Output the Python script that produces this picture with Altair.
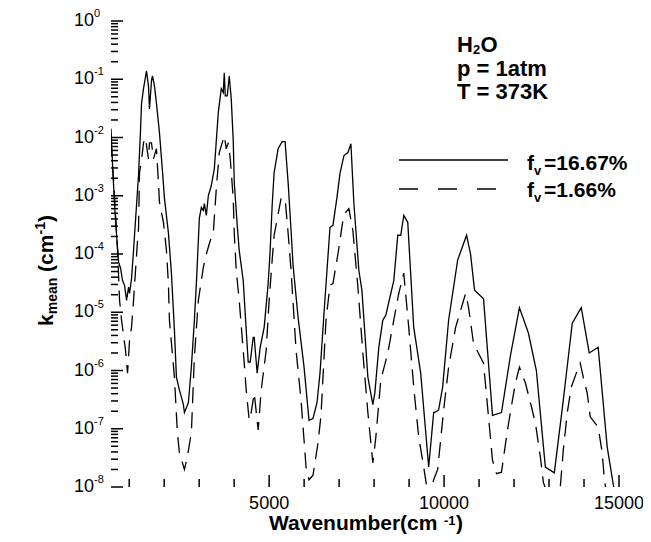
import altair as alt
import pandas as pd

FONT = "Liberation Sans, Arial, sans-serif"
W, H = 508, 466

# ---- data ----
solid_x = [480, 525, 583, 640, 697, 754, 810, 868, 925, 982, 1010, 1067, 1124, 1209, 1266,
           1323, 1352, 1409, 1437, 1494, 1551, 1580, 1637, 1665, 1722, 1779, 1865, 1950, 2008,
           2121, 2207, 2293, 2350, 2435, 2492, 2549, 2578, 2635, 2692, 2777, 2863, 2920, 2977,
           3005, 3062, 3119, 3148, 3205, 3262, 3347, 3433, 3490, 3547, 3632, 3689, 3718, 3746,
           3803, 3860, 3917, 3974, 4003, 4088, 4145, 4259, 4345, 4402, 4459, 4544, 4573, 4658,
           4744, 4858, 4972, 5029, 5086, 5143, 5257, 5371, 5456, 5542, 5627, 5684, 5827, 5998,
           6140, 6254, 6368, 6454, 6568, 6739, 6824, 6938, 7024, 7138, 7252, 7337, 7423, 7565,
           7651, 7822, 7964, 8021, 8135, 8249, 8335, 8477, 8563, 8677, 8762, 8848, 8962, 9133,
           9332, 9560, 9703, 9760, 9845, 9959, 10130, 10387, 10643, 10757, 10871, 11128, 11384,
           11641, 11897, 12154, 12410, 12638, 12895, 13151, 13408, 13664, 13921, 14149, 14405,
           14662, 14890]
solid_k = [1.42e-2, 3.3e-3, 6.8e-4, 2.1e-4, 7.2e-5, 5.7e-5, 3.5e-5, 2.9e-5, 1.6e-5, 2.7e-5,
           2.1e-5, 3.8e-5, 1.15e-4, 6.8e-4, 2.2e-3, 1.3e-2, 3.8e-2, 6.9e-2, 8.7e-2, 1.39e-1,
           7.7e-2, 3.1e-2, 9.4e-2, 1.14e-1, 7.7e-2, 3.9e-2, 1.21e-2, 2.7e-3, 9.0e-4, 2.3e-4,
           4.7e-5, 4.9e-6, 7.7e-7, 4.6e-7, 3.5e-7, 2.6e-7, 1.9e-7, 2.3e-7, 2.8e-7, 1.14e-6,
           7.3e-6, 3.1e-5, 1.7e-4, 4.1e-4, 6.3e-4, 5.6e-4, 7.3e-4, 4.6e-4, 1.0e-3, 1.5e-3,
           2.9e-3, 8.8e-3, 2.7e-2, 6.9e-2, 5.9e-2, 1.29e-1, 5.2e-2, 5.2e-2, 1.14e-1, 4.6e-2,
           8.8e-3, 1.7e-3, 3.1e-4, 1.15e-4, 3.5e-5, 4.9e-6, 1.4e-6, 1.4e-6, 3.7e-6, 3.7e-6,
           9.0e-7, 2.5e-6, 5.5e-6, 3.1e-5, 1.15e-4, 6.8e-4, 2.5e-3, 6.4e-3, 8.5e-3, 8.5e-3,
           1.7e-3, 2.5e-4, 6.4e-5, 8.2e-6, 1.14e-6, 1.4e-7, 1.5e-7, 2.8e-7, 9.0e-7, 9.6e-6,
           2.85e-4, 3.1e-4, 9.3e-4, 2.4e-3, 4.9e-3, 5.5e-3, 7.8e-3, 7.3e-4, 5.2e-5, 2.4e-5,
           7.7e-7, 2.6e-7, 4.1e-7, 2.5e-6, 7.3e-6, 8.9e-6, 2.1e-5, 3.5e-5, 2.1e-4, 2.1e-4,
           4.6e-4, 3.5e-4, 5.5e-6, 9.0e-7, 2.2e-8, 1.9e-7, 1.94e-7, 2.1e-7, 5.2e-7, 7.3e-6,
           7.8e-5, 2.1e-4, 1.0e-4, 2.4e-5, 1.7e-5, 1.7e-7, 1.9e-7, 1.8e-6, 1.2e-5, 4.4e-6,
           1.0e-6, 2.2e-8, 1.75e-8, 3.1e-7, 6.5e-6, 1.2e-5, 2.0e-6, 2.5e-6, 4.9e-8, 7e-9]

dash_x = [480, 554, 611, 668, 725, 782, 839, 896, 953, 1010, 1067, 1124, 1181, 1238, 1266,
          1295, 1352, 1409, 1466, 1551, 1580, 1637, 1694, 1779, 1836, 1865, 1979, 2065, 2121,
          2150, 2293, 2378, 2435, 2578, 2663, 2777, 2863, 2977, 3119, 3205, 3318, 3404, 3490,
          3575, 3718, 3775, 3832, 3889, 3974, 4003, 4060, 4145, 4288, 4345, 4430, 4487, 4573,
          4687, 4772, 4915, 5000, 5086, 5143, 5342, 5456, 5542, 5627, 5770, 5912, 6055, 6140,
          6254, 6397, 6482, 6625, 6739, 6824, 6967, 7109, 7166, 7280, 7394, 7537, 7679, 7822,
          7964, 8050, 8192, 8392, 8563, 8705, 8848, 8990, 9133, 9275, 9418, 9560, 9703, 9817,
          9988, 10130, 10330, 10415, 10615, 10700, 10843, 11128, 11270, 11384, 11498, 11641,
          11812, 11954, 12040, 12154, 12325, 12467, 12610, 12752, 12838, 13066, 13322, 13408,
          13522, 13636, 13807, 13892, 13978, 14092, 14177, 14405, 14519, 14576, 14662]
dash_k = [8.8e-3, 1.8e-3, 4.6e-4, 1.15e-4, 1.6e-5, 7.3e-6, 4.0e-6, 2.2e-6, 9.0e-7, 3.3e-6,
          5.5e-6, 1.6e-5, 5.2e-5, 1.7e-4, 2.7e-4, 2.5e-3, 4.0e-3, 8.1e-3, 9.9e-3, 4.3e-3,
          8.1e-3, 8.1e-3, 4.3e-3, 6.4e-3, 1.7e-3, 7.7e-4, 3.5e-4, 1.15e-4, 3.1e-5, 7.3e-6,
          7.7e-7, 8.5e-8, 3.9e-8, 2.0e-8, 3.3e-8, 8.5e-8, 1.7e-6, 1.6e-5, 5.9e-5, 1.0e-4,
          1.7e-4, 2.3e-4, 1.33e-3, 5.5e-3, 1.07e-2, 6.4e-3, 8.1e-3, 4.3e-3, 9.0e-4, 2.3e-4,
          5.2e-5, 1.6e-5, 1.34e-6, 4.6e-7, 1.4e-7, 1.9e-7, 4.1e-7, 9.5e-8, 4.6e-7, 2.2e-6,
          1.6e-5, 7.8e-5, 2.1e-4, 9.0e-4, 9.0e-4, 2.3e-4, 5.2e-5, 2.2e-6, 3.1e-7, 2.2e-8,
          1.33e-8, 1.6e-8, 5.7e-8, 1.7e-7, 7.3e-6, 2.9e-5, 3.1e-5, 1.0e-4, 3.8e-4, 5.0e-4,
          6.0e-4, 2.5e-4, 2.7e-5, 2.0e-6, 1.9e-7, 2.6e-8, 7.2e-8, 6.9e-7, 2.0e-6, 7.3e-6,
          2.1e-5, 4.7e-5, 5.5e-6, 5.2e-7, 7.2e-8, 2.2e-8, 6e-9, 1.33e-8, 2.0e-8, 2.1e-7,
          1.14e-6, 5.5e-6, 8.2e-6, 2.1e-5, 1.2e-5, 2.9e-6, 1.34e-6, 1.6e-7, 2.9e-8, 1.7e-8,
          1.8e-8, 9.5e-8, 3.1e-7, 6.1e-7, 1.14e-6, 6.1e-7, 2.8e-7, 1.26e-7, 3.3e-8, 1.2e-8,
          5e-9, 1.0e-8, 4.3e-8, 1.9e-7, 5.2e-7, 1.0e-6, 1.34e-6, 7.7e-7, 4.1e-7, 1.6e-7,
          1.07e-7, 3.9e-8, 1.5e-8, 6e-9]

x_major = [5000, 10000, 15000]
x_labels = ["5000", "10000", "15000"]
x_minor = [1000, 2000, 3000, 4000, 6000, 7000, 8000, 9000, 11000, 12000, 13000, 14000]
y_major = [1, 1e-1, 1e-2, 1e-3, 1e-4, 1e-5, 1e-6, 1e-7, 1e-8]
y_exp = ["0", "-1", "-2", "-3", "-4", "-5", "-6", "-7", "-8"]
y_minor = [m * d for d in y_major[1:] for m in range(2, 10)]

legend_labels = ["=16.67%", "=1.66%"]

# ---- scales ----
xs = alt.Scale(domain=[480, 15000], nice=False, zero=False)
ys = alt.Scale(type="log", domain=[1e-8, 1], nice=False)

ax_x = alt.Axis(labels=False, ticks=False, title=None, grid=False,
                domainColor="black", domainWidth=2)
ax_y = alt.Axis(labels=False, ticks=False, title=None, grid=False,
                domainColor="black", domainWidth=2)


def XQ(axis=None):
    return alt.X("x:Q", scale=xs, axis=axis)


def YQ(axis=None):
    return alt.Y("k:Q", scale=ys, axis=axis)


solid_df = pd.DataFrame({"x": solid_x, "k": solid_k})
dash_df = pd.DataFrame({"x": dash_x, "k": dash_k})

line_solid = alt.Chart(solid_df).mark_line(
    clip=True, color="black", strokeWidth=1.3
).encode(x=XQ(ax_x), y=YQ(ax_y))

line_dash = alt.Chart(dash_df).mark_line(
    clip=True, color="black", strokeWidth=1.3, strokeDash=[16, 9]
).encode(x=XQ(), y=YQ())

# ticks (inward)
xt_major = alt.Chart(pd.DataFrame({"x": x_major})).mark_rule(color="black", strokeWidth=1.5).encode(
    x=XQ(), y=alt.value(H), y2=alt.value(H - 12))
xt_minor = alt.Chart(pd.DataFrame({"x": x_minor})).mark_rule(color="black", strokeWidth=1.5).encode(
    x=XQ(), y=alt.value(H), y2=alt.value(H - 8))
yt_major = alt.Chart(pd.DataFrame({"k": y_major})).mark_rule(color="black", strokeWidth=1.5).encode(
    y=YQ(), x=alt.value(0), x2=alt.value(12))
yt_minor = alt.Chart(pd.DataFrame({"k": y_minor})).mark_rule(color="black", strokeWidth=1.5).encode(
    y=YQ(), x=alt.value(0), x2=alt.value(7))

# tick labels
xlab = alt.Chart(pd.DataFrame({"x": x_major, "t": x_labels})).mark_text(
    font=FONT, fontSize=18, align="center", baseline="middle", color="black"
).encode(x=XQ(), y=alt.value(H + 17), text="t:N")

ylab_base = alt.Chart(pd.DataFrame({"k": y_major})).mark_text(
    text="10", font=FONT, fontSize=18, align="right", baseline="middle", color="black"
).encode(y=YQ(), x=alt.value(-17))
ylab_exp = alt.Chart(pd.DataFrame({"k": y_major, "e": y_exp})).mark_text(
    font=FONT, fontSize=11, align="left", baseline="middle", dy=-7, color="black"
).encode(y=YQ(), x=alt.value(-17), text="e:N")


def txt(s, x, y, size, angle=0, weight="bold"):
    return alt.Chart(alt.Data(values=[{"t": s}])).mark_text(
        text=s, font=FONT, fontSize=size, fontWeight=weight, align="left",
        baseline="alphabetic", angle=angle, color="black"
    ).encode(x=alt.value(x), y=alt.value(y))


# x title: Wavenumber(cm -1)
tx0 = 158
xtitle = [
    txt("Wavenumber(cm", tx0, H + 43, 21),
    txt("-1", tx0 + 175, H + 37.5, 13),
    txt(")", tx0 + 187, H + 43, 21),
]

# y title: k_mean (cm^-1), rotated
ty0 = 305
bx = -58
ytitle = [
    txt("k", bx, ty0, 21, angle=270),
    txt("mean", bx + 4, ty0 - 11.7, 14, angle=270),
    txt("(cm", bx, ty0 - 54.1, 21, angle=270),
    txt("-1", bx - 8, ty0 - 91.5, 14, angle=270),
    txt(")", bx, ty0 - 103.9, 21, angle=270),
]

# annotation
ax0 = 346
annot = [
    txt("H", ax0, 31, 22),
    txt("2", ax0 + 16, 33, 13),
    txt("O", ax0 + 23.5, 31, 22),
    txt("p = 1atm", ax0, 55, 22),
    txt("T = 373K", ax0, 78, 22),
]

# legend
one = alt.Data(values=[{"a": 1}])
lx0 = 288
leg_solid = alt.Chart(one).mark_rule(color="black", strokeWidth=1.3).encode(
    x=alt.value(lx0), x2=alt.value(lx0 + 109), y=alt.value(139))
leg_dash = alt.Chart(one).mark_rule(color="black", strokeWidth=1.3, strokeDash=[19, 20]).encode(
    x=alt.value(lx0), x2=alt.value(lx0 + 97), y=alt.value(168))
legend = [
    leg_solid, leg_dash,
    txt("f", lx0 + 128, 149, 21), txt("v", lx0 + 135, 154, 13), txt(legend_labels[0], lx0 + 145, 149, 21),
    txt("f", lx0 + 128, 176, 21), txt("v", lx0 + 135, 181, 13), txt(legend_labels[1], lx0 + 145, 176, 21),
]

chart = alt.layer(
    line_solid, line_dash, xt_major, xt_minor, yt_major, yt_minor,
    xlab, ylab_base, ylab_exp, *xtitle, *ytitle, *annot, *legend
).properties(
    width=W, height=H,
    autosize=alt.AutoSizeParams(type="none"),
    padding={"left": 103, "top": 13, "right": 24, "bottom": 47},
).configure_view(stroke=None)

chart.save("out.html", embed_options={"renderer": "svg", "actions": False})
